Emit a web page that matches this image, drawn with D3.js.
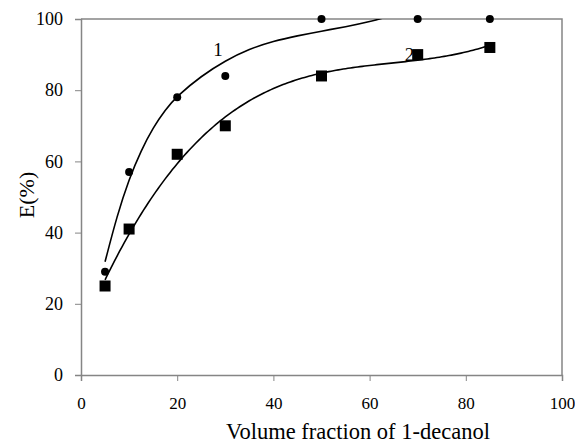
<!DOCTYPE html>
<html>
<head>
<meta charset="utf-8">
<script src="https://cdn.jsdelivr.net/npm/d3@7"></script>
<style>
  body { margin: 0; background: #fff; }
  text { font-family: "Liberation Serif", "Times New Roman", serif; fill: #000; }
</style>
</head>
<body>
<div id="chart"></div>
<script>
// measured data
var volFrac = [5, 10, 20, 30, 50, 70, 85];
var series1 = [29, 57, 78, 84, 100, 100, 100];   // circles, curve "1"
var series2 = [25, 41, 62, 70, 84, 90, 92];      // squares, curve "2"

// curve 1 is not a plain cubic of its points, so it is read off the picture
var trend1X = [5, 7.5, 10, 12.5, 15, 17.5, 20, 25, 30, 35, 40, 45, 50, 55, 60, 65, 70];
var trend1Y = [31.8, 44.8, 55.1, 63.1, 69.5, 74.5, 78.4, 84.0, 88.3, 91.6, 93.8, 95.3, 96.6, 97.8, 99.2, 101.1, 103.5];

var xTicks = [0, 20, 40, 60, 80, 100];
var yTicks = [0, 20, 40, 60, 80, 100];

var width = 575, height = 444;
var margin = {left: 81, right: 13, top: 19, bottom: 69};

// least squares cubic trend line (like the spreadsheet's polynomial trendline)
function cubicFit(xs, ys) {
  var n = 4, A = [], i, j, k;
  for (i = 0; i < n; i++) {
    A.push([]);
    for (j = 0; j < n; j++) A[i].push(d3.sum(xs, function(v) { return Math.pow(v, i + j); }));
    A[i].push(d3.sum(xs, function(v, idx) { return Math.pow(v, i) * ys[idx]; }));
  }
  for (i = 0; i < n; i++) {
    var p = i;
    for (k = i + 1; k < n; k++) if (Math.abs(A[k][i]) > Math.abs(A[p][i])) p = k;
    var tmp = A[i]; A[i] = A[p]; A[p] = tmp;
    for (k = i + 1; k < n; k++) {
      var f = A[k][i] / A[i][i];
      for (j = i; j <= n; j++) A[k][j] -= f * A[i][j];
    }
  }
  var c = [0, 0, 0, 0];
  for (i = n - 1; i >= 0; i--) {
    var s = A[i][n];
    for (j = i + 1; j < n; j++) s -= A[i][j] * c[j];
    c[i] = s / A[i][i];
  }
  return function(v) { return c[0] + c[1] * v + c[2] * v * v + c[3] * v * v * v; };
}

var svg = d3.select("#chart").append("svg")
    .attr("width", width)
    .attr("height", height);

var x = d3.scaleLinear().domain([0, 100]).range([margin.left, width - margin.right]);
var y = d3.scaleLinear().domain([0, 100]).range([height - margin.bottom, margin.top]);

svg.append("clipPath").attr("id", "plotclip")
  .append("rect")
    .attr("x", x(0)).attr("y", y(100))
    .attr("width", x(100) - x(0)).attr("height", y(0) - y(100));

// frame (top and right)
svg.append("path")
    .attr("d", "M" + x(0) + "," + y(100) + "H" + x(100) + "V" + y(0))
    .attr("fill", "none")
    .attr("stroke", "#858585")
    .attr("stroke-width", 1.5);

// axes
var xAxis = svg.append("g")
    .attr("transform", "translate(0," + y(0) + ")")
    .call(d3.axisBottom(x).tickValues(xTicks).tickSizeOuter(0).tickSize(6).tickPadding(16));
var yAxis = svg.append("g")
    .attr("transform", "translate(" + x(0) + ",0)")
    .call(d3.axisLeft(y).tickValues(yTicks).tickSizeOuter(0).tickSize(6).tickPadding(12));

[xAxis, yAxis].forEach(function(a) {
  a.select(".domain").attr("stroke", "#858585").attr("stroke-width", 1.5);
  a.selectAll(".tick line").attr("stroke", "#858585").attr("stroke-width", 1);
  a.selectAll(".tick text")
    .style("font-family", '"Liberation Serif", serif')
    .attr("fill", "#000");
});
xAxis.selectAll(".tick text").style("font-size", "17px");
yAxis.selectAll(".tick text").style("font-size", "18px");

// trend lines
var plot = svg.append("g").attr("clip-path", "url(#plotclip)");

var line1 = d3.line()
    .x(function(d) { return x(d[0]); })
    .y(function(d) { return y(d[1]); })
    .curve(d3.curveBasis);

plot.append("path")
    .datum(d3.zip(trend1X, trend1Y))
    .attr("d", line1)
    .attr("fill", "none")
    .attr("stroke", "#000")
    .attr("stroke-width", 1.6);

var fit2 = cubicFit(volFrac, series2);
var line2 = d3.line()
    .x(function(v) { return x(v); })
    .y(function(v) { return y(fit2(v)); });

plot.append("path")
    .datum(d3.range(volFrac[0], volFrac[volFrac.length - 1] + 0.01, 0.5))
    .attr("d", line2)
    .attr("fill", "none")
    .attr("stroke", "#000")
    .attr("stroke-width", 1.6);

// markers
svg.append("g").selectAll("circle")
    .data(d3.zip(volFrac, series1))
    .join("circle")
    .attr("cx", function(d) { return x(d[0]); })
    .attr("cy", function(d) { return y(d[1]); })
    .attr("r", 4)
    .attr("fill", "#000");

svg.append("g").selectAll("rect")
    .data(d3.zip(volFrac, series2))
    .join("rect")
    .attr("x", function(d) { return x(d[0]) - 5.5; })
    .attr("y", function(d) { return y(d[1]) - 5.5; })
    .attr("width", 11)
    .attr("height", 11)
    .attr("fill", "#000");

// curve labels
svg.append("text")
    .attr("x", x(28.5)).attr("y", y(89.6))
    .attr("text-anchor", "middle")
    .style("font-size", "19px")
    .text("1");

svg.append("text")
    .attr("x", x(68.3)).attr("y", y(88.2))
    .attr("text-anchor", "middle")
    .style("font-size", "19px")
    .text("2");

// axis titles
svg.append("text")
    .attr("x", 358).attr("y", 439)
    .attr("text-anchor", "middle")
    .style("font-size", "22.5px")
    .text("Volume fraction of 1-decanol");

svg.append("text")
    .attr("transform", "translate(34,195) rotate(-90)")
    .attr("text-anchor", "middle")
    .style("font-size", "22px")
    .text("E(%)");
</script>
</body>
</html>
